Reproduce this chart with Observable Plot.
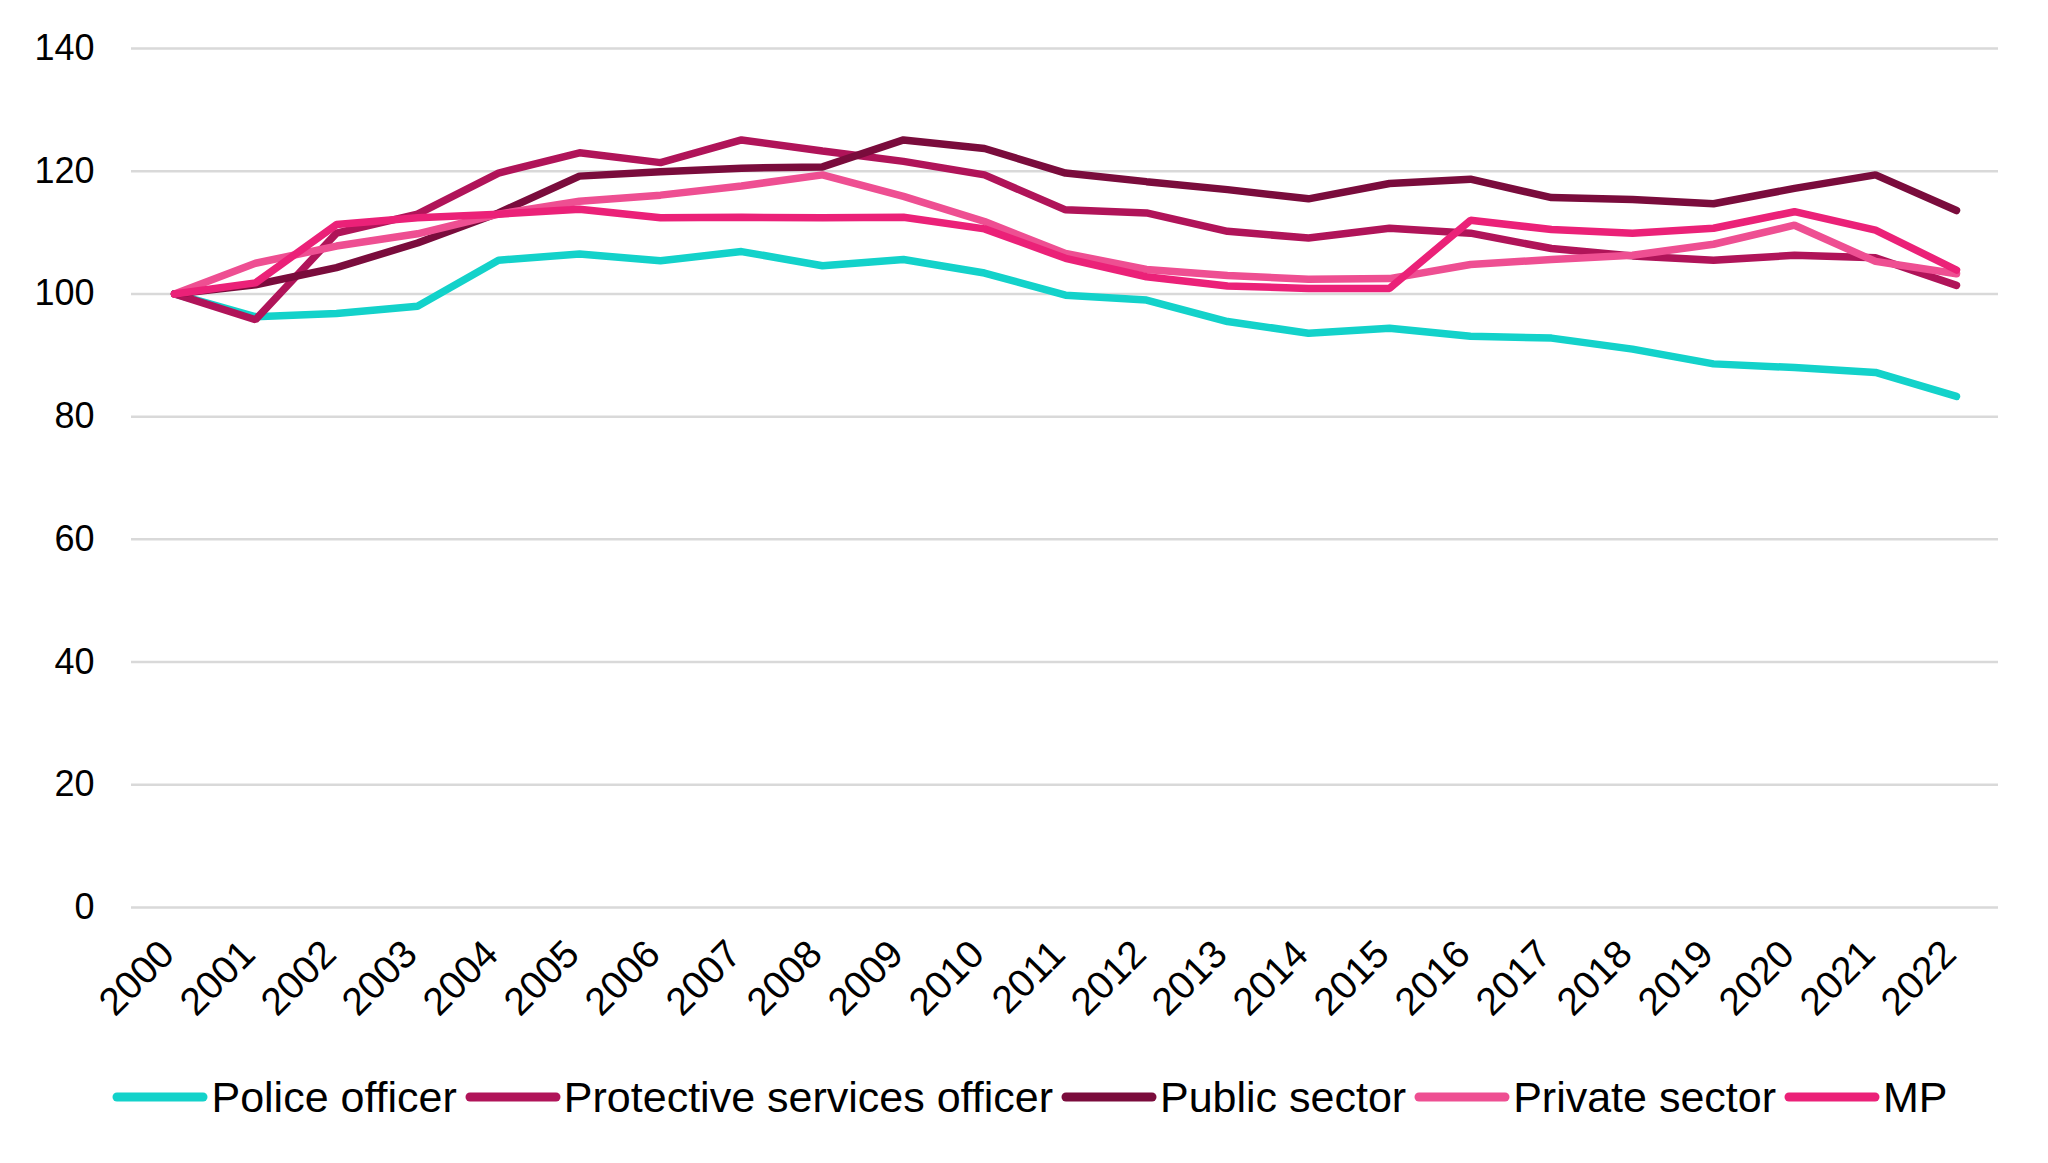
<!DOCTYPE html>
<html>
<head>
<meta charset="utf-8">
<script src="https://cdn.jsdelivr.net/npm/d3@7"></script>
<script src="https://cdn.jsdelivr.net/npm/@observablehq/plot@0.6"></script>
<style>
  html, body { margin: 0; padding: 0; background: #fff; }
  body { width: 2048px; height: 1163px; position: relative; overflow: hidden;
         font-family: "Liberation Sans", Arial, sans-serif; color: #000; }
  #chart { position: absolute; left: 0; top: 0; }
  #legend { position: absolute; left: 6px; top: 1072px; width: 2048px; height: 50px;
            display: flex; justify-content: center; align-items: center; font-size: 43px; }
  .item { display: flex; align-items: center; margin: 0 4px; }
  .item svg { margin-right: 3px; }
</style>
</head>
<body>
<div id="chart"></div>
<div id="legend"></div>
<script>
const years = [2000,2001,2002,2003,2004,2005,2006,2007,2008,2009,2010,2011,2012,2013,2014,2015,2016,2017,2018,2019,2020,2021,2022];
const seriesNames = ["Police officer", "Protective services officer", "Public sector", "Private sector", "MP"];
const seriesColors = ["#13D2CA", "#B01459", "#7A0C3C", "#EE4F92", "#EB2178"];

const policeOfficer = [100,96.3,96.8,98.0,105.5,106.5,105.4,106.9,104.6,105.6,103.4,99.8,99.0,95.5,93.6,94.4,93.1,92.8,91.0,88.6,88.0,87.2,83.3];
const protectiveServicesOfficer = [100,95.8,109.9,113.0,119.7,123.0,121.4,125.1,123.3,121.6,119.4,113.7,113.2,110.2,109.1,110.7,109.9,107.4,106.2,105.5,106.3,105.9,101.4];
const publicSector = [100,101.5,104.3,108.3,113.2,119.2,119.9,120.5,120.7,125.1,123.7,119.7,118.3,117.0,115.5,118.0,118.7,115.7,115.4,114.7,117.2,119.4,113.6];
const privateSector = [100,105.0,107.8,109.8,113.0,115.1,116.1,117.6,119.4,115.9,111.8,106.6,104.0,103.0,102.4,102.5,104.8,105.6,106.3,108.1,111.2,105.3,103.3];
const mp = [100,101.8,111.3,112.4,113.0,113.8,112.4,112.5,112.4,112.5,110.6,105.8,102.8,101.3,100.9,100.9,112.0,110.5,109.9,110.7,113.4,110.4,103.9];

const seriesValues = [policeOfficer, protectiveServicesOfficer, publicSector, privateSector, mp];
const yTicks = [0,20,40,60,80,100,120,140];

const data = seriesNames.flatMap((name, s) =>
  years.map((year, i) => ({series: name, year, value: seriesValues[s][i]})));

const chart = Plot.plot({
  width: 2048,
  height: 1060,
  marginLeft: 131,
  marginRight: 50,
  marginTop: 48,
  marginBottom: 153,
  style: {fontSize: "36px", fontFamily: "'Liberation Sans', Arial, sans-serif", color: "#000", background: "transparent"},
  x: {type: "point", domain: years, padding: 0.5, label: null},
  y: {domain: [0, 140], label: null},
  color: {domain: seriesNames, range: seriesColors},
  marks: [
    Plot.gridY(yTicks, {stroke: "#d9d9d9", strokeOpacity: 1, strokeWidth: 2.5}),
    Plot.axisY(yTicks, {tickSize: 0, tickPadding: 37, label: null}),
    Plot.axisX(years, {tickRotate: -45, tickSize: 0, tickPadding: 40, dx: -7, fontSize: 39,
                       label: null, tickFormat: d => String(d)}),
    Plot.lineY(data, {x: "year", y: "value", stroke: "series", z: "series", strokeWidth: 7.5,
                      strokeLinecap: "round", strokeLinejoin: "miter"})
  ]
});
document.getElementById("chart").appendChild(chart);

const legend = document.getElementById("legend");
seriesNames.forEach((name, i) => {
  const item = document.createElement("div");
  item.className = "item";
  item.innerHTML = `<svg width="96" height="14"><line x1="5" y1="7" x2="91" y2="7" stroke="${seriesColors[i]}" stroke-width="9" stroke-linecap="round"/></svg><span>${name}</span>`;
  legend.appendChild(item);
});
</script>
</body>
</html>
